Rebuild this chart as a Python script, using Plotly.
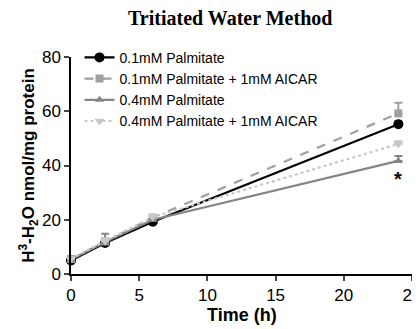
import plotly.graph_objects as go

time_h = [0, 2.5, 6, 24]
names = ["0.1mM Palmitate", "0.1mM Palmitate + 1mM AICAR", "0.4mM Palmitate", "0.4mM Palmitate + 1mM AICAR"]
pal01 = [5.0, 11.4, 19.3, 55.2]
pal01_aicar = [5.5, 12.0, 20.8, 59.2]
pal04 = [5.3, 11.8, 20.0, 41.7]
pal04_aicar = [5.6, 12.2, 21.0, 47.9]
err01 = [0.5, 1.0, 0.8, 1.0]
err01_aicar = [0.5, 1.0, 0.8, 3.9]
err04 = [0.5, 3.0, 0.8, 1.8]
err04_aicar = [0.5, 1.0, 0.8, 1.0]

series = [
    (names[0], pal01, err01, "black", "solid", "circle", 10),
    (names[1], pal01_aicar, err01_aicar, "#a0a0a0", "dash", "square", 8),
    (names[2], pal04, err04, "#858585", "solid", "triangle-up", 8),
    (names[3], pal04_aicar, err04_aicar, "#c8c8c8", "dot", "triangle-down", 9),
]

fig = go.Figure()
for name, vals, err, col, dash, sym, size in series:
    fig.add_trace(go.Scatter(
        x=time_h, y=vals, name=name, mode="lines+markers",
        line=dict(color=col, width=2.2, dash=dash),
        marker=dict(symbol=sym, size=size, color=col),
        error_y=dict(type="data", array=err, arrayminus=[0]*len(err), color=col, thickness=2, width=4),
        cliponaxis=False,
    ))

fig.add_annotation(x=24, y=35, text="<b>*</b>", showarrow=False,
                   font=dict(size=20, color="black", family="Liberation Sans"))
# x-axis title
fig.add_annotation(x=0.5, y=-0.19, xref="paper", yref="paper", xanchor="center", yanchor="middle",
                   text="<b>Time (h)</b>", showarrow=False,
                   font=dict(size=18, color="black", family="Liberation Sans"))

# page body has an 8px margin: figure sized/offset so the plot area sits where the reference's does
fig.update_layout(
    width=404, height=321,
    margin=dict(l=63, r=0, t=49, b=55, autoexpand=False),
    paper_bgcolor="white", plot_bgcolor="white",
    title=dict(text="<b>Tritiated Water Method</b>", x=0.55, xanchor="center", y=0.99, yanchor="top",
               pad=dict(t=0), font=dict(family="Liberation Serif", size=20, color="black")),
    font=dict(family="Liberation Sans", color="black"),
    legend=dict(x=0.025, y=1.07, xanchor="left", yanchor="top", bgcolor="rgba(0,0,0,0)",
                font=dict(size=14, family="Liberation Sans"), tracegroupgap=0, itemwidth=30),
    showlegend=True,
)
axis_common = dict(showline=True, linecolor="black", linewidth=1.5, ticks="outside", ticklen=5, tickwidth=1.5,
                   showgrid=False, zeroline=False, automargin=False, ticklabeloverflow="allow",
                   tickfont=dict(size=17, family="Liberation Sans", color="black"),
                   tickprefix="<b>", ticksuffix="</b>")
fig.update_xaxes(range=[0, 25], tickvals=[0, 5, 10, 15, 20, 25], **axis_common)
fig.update_yaxes(range=[0, 80], tickvals=[0, 20, 40, 60, 80],
                 title=dict(text="<b>H<sup>3</sup>-H<sub>2</sub>O nmol/mg protein</b>", font=dict(size=17), standoff=3),
                 **axis_common)

fig.write_html("out.html")
